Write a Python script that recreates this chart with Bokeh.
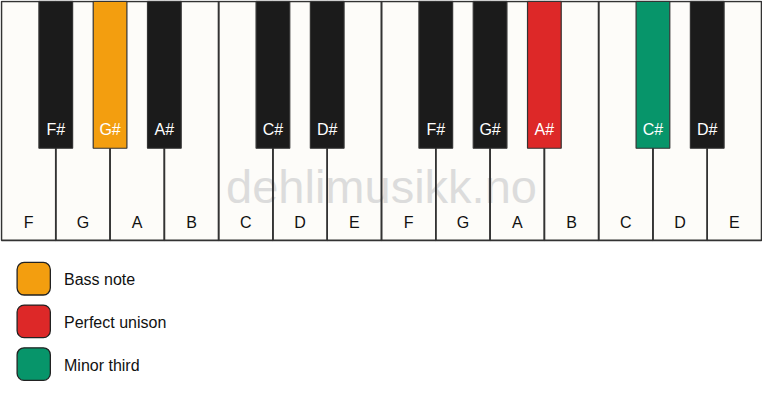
from bokeh.plotting import figure
from bokeh.models import Range1d
from bokeh.embed import file_html
from bokeh.resources import INLINE
from bokeh.core.properties import value

# ---- data ----
white_notes = ["F", "G", "A", "B", "C", "D", "E", "F", "G", "A", "B", "C", "D", "E"]
black_slots = [1, 2, 3, 5, 6, 8, 9, 10, 12, 13]
black_notes = ["F#", "G#", "A#", "C#", "D#", "F#", "G#", "A#", "C#", "D#"]
black_roles = ["", "bass", "", "", "", "", "", "unison", "third", ""]
legend_roles = ["bass", "unison", "third"]
legend_labels = ["Bass note", "Perfect unison", "Minor third"]
watermark = "dehlimusikk.no"

# ---- styles ----
role_colors = {"bass": "#f39e0f", "unison": "#dd2828", "third": "#07956a", "": "#1b1b1b"}
WHITE_FILL = "#fdfcf9"
EDGE = "#333333"
FONT = value("Liberation Sans")

W, H = 778, 417
KW = W / len(white_notes)
KH = 249
BW, BH = 34.5, 153

p = figure(width=762, height=401, x_range=Range1d(-1, W + 1), y_range=Range1d(H, -1),
           output_backend="svg", toolbar_location=None, min_border=0)
p.axis.visible = False
p.grid.visible = False
p.outline_line_color = None
p.background_fill_color = "white"
p.border_fill_color = "white"

n = len(white_notes)
lefts = [i * KW for i in range(n)]
rights = [(i + 1) * KW for i in range(n)]
p.quad(left=lefts, right=rights, top=[0] * n, bottom=[KH] * n,
       fill_color=WHITE_FILL, line_color=None)

p.text(x=[W / 2], y=[193], text=[watermark], text_align="center", text_baseline="middle",
       text_font=FONT, text_font_size=value("47px"), text_color="#dcdcdc")

p.quad(left=lefts, right=rights, top=[0] * n, bottom=[KH] * n,
       fill_color=None, line_color=EDGE, line_width=1.6)

p.text(x=[(i + 0.5) * KW for i in range(n)], y=[230] * n, text=white_notes,
       text_align="center", text_baseline="middle", text_font=FONT,
       text_font_size=value("16px"), text_color="#111111")

m = len(black_slots)
bx = [s * KW for s in black_slots]
p.quad(left=[x - BW / 2 for x in bx], right=[x + BW / 2 for x in bx],
       top=[0] * m, bottom=[BH] * m,
       fill_color=[role_colors[r] for r in black_roles], line_color=EDGE, line_width=1.2)
p.text(x=bx, y=[133] * m, text=black_notes, text_align="center", text_baseline="middle",
       text_font=FONT, text_font_size=value("16px"), text_color="white")

k = len(legend_labels)
ly = [289 + 44.5 * i for i in range(k)]
p.rect(x=[33] * k, y=ly, width=34, height=34, border_radius=7,
       fill_color=[role_colors[r] for r in legend_roles], line_color="#222222", line_width=1.3)
p.text(x=[64] * k, y=[y + 1 for y in ly], text=legend_labels, text_align="left",
       text_baseline="middle", text_font=FONT, text_font_size=value("16px"),
       text_color="#111111")

open("out.html", "w").write(file_html(p, INLINE))
